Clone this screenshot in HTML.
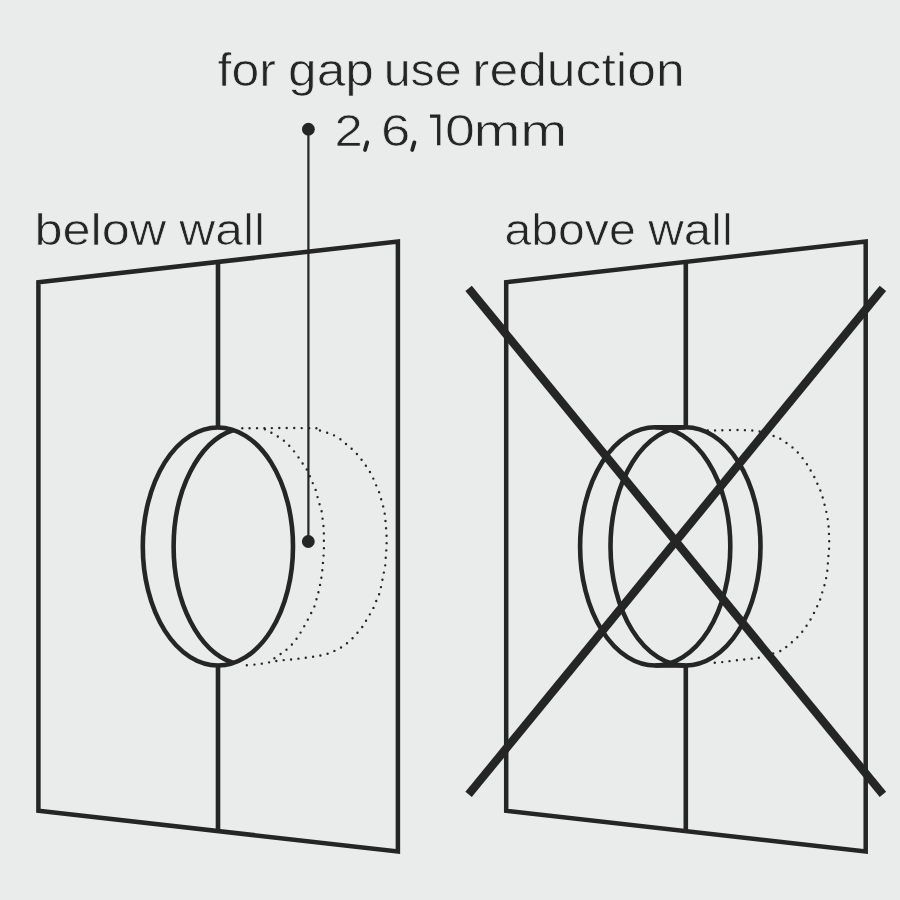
<!DOCTYPE html>
<html><head><meta charset="utf-8"><style>
html,body{margin:0;padding:0;background:#eaeceb;}
svg{display:block;will-change:transform;}
text{font-family:"Liberation Sans",sans-serif;font-size:45px;fill:#252525;stroke:#eaeceb;stroke-width:0.7px;}
</style></head><body>
<svg width="900" height="900" viewBox="0 0 900 900">
<rect width="900" height="900" fill="#eaeceb"/>
<text transform="translate(217.58,86.00) scale(1.1096,1.02)" >for</text>
<text transform="translate(288.08,86.00) scale(1.1431,1.02)" >gap</text>
<text transform="translate(383.63,86.00) scale(1.0754,1.02)" >use</text>
<text transform="translate(472.20,86.00) scale(1.1484,1.02)" >reduction</text>
<text transform="translate(334.55,145.70) scale(1.1317,1.0)" >2</text>
<text transform="translate(380.96,145.70) scale(1.1691,1.0)" >6</text>
<text transform="translate(445.00,145.70) scale(1.1953,1.0)" >0</text>
<text transform="translate(473.39,145.70) scale(1.2536,1.0)" >mm</text>
<line x1="367.2" y1="142.4" x2="365.0" y2="150.0" stroke="#252525" stroke-width="3.8" stroke-linecap="round"/>
<line x1="414.4" y1="142.4" x2="412.2" y2="150.0" stroke="#252525" stroke-width="3.8" stroke-linecap="round"/>
<text transform="translate(34.40,245.30) scale(1.1211,1.0)" >below</text>
<text transform="translate(179.36,245.30) scale(1.1046,1.0)" >wall</text>
<text transform="translate(504.41,245.30) scale(1.0716,1.0)" >above</text>
<text transform="translate(648.16,245.30) scale(1.0938,1.0)" >wall</text>
<path d="M430,116.2 L438.7,116.2 L438.7,145.3" fill="none" stroke="#252525" stroke-width="3.3" stroke-linejoin="miter"/>
<polygon points="38.40,282.20 397.90,241.60 397.90,851.40 38.40,810.80" fill="none" stroke="#252525" stroke-width="4.5" stroke-linejoin="miter"/>
<polygon points="506.20,282.20 865.70,241.60 865.70,851.40 506.20,810.80" fill="none" stroke="#252525" stroke-width="4.5" stroke-linejoin="miter"/>
<line x1="218.0" y1="261.91694019471487" x2="218.0" y2="428" stroke="#252525" stroke-width="4.6"/><line x1="218.0" y1="665" x2="218.0" y2="831.0830598052851" stroke="#252525" stroke-width="4.6"/>
<line x1="685.8" y1="261.91694019471487" x2="685.8" y2="428" stroke="#252525" stroke-width="4.6"/><line x1="685.8" y1="664" x2="685.8" y2="831.0830598052851" stroke="#252525" stroke-width="4.6"/>
<ellipse cx="217.9" cy="546.5" rx="75.1" ry="119" fill="none" stroke="#252525" stroke-width="4.6"/>
<path d="M233.3,430.03 A75.1,119 0 0 0 233.3,662.97" fill="none" stroke="#252525" stroke-width="4.6"/>
<ellipse cx="655.2" cy="546.4" rx="75.1" ry="119.1" fill="none" stroke="#252525" stroke-width="4.6"/>
<ellipse cx="685.5" cy="546.4" rx="75.0" ry="119.1" fill="none" stroke="#252525" stroke-width="4.6"/>
<line x1="655.2" y1="427.3" x2="685.5" y2="427.3" stroke="#252525" stroke-width="4.6"/>
<line x1="655.2" y1="665.5" x2="685.5" y2="665.5" stroke="#252525" stroke-width="4.6"/>
<path d="M242.30,428.20 C254.10,428.20 300.35,427.88 313.10,428.20 C325.85,428.52 316.60,429.40 318.80,430.10 C321.00,430.80 323.95,431.62 326.30,432.40 C328.65,433.18 330.68,433.77 332.90,434.80 C335.12,435.83 337.55,437.18 339.60,438.60 C341.65,440.02 343.32,441.72 345.20,443.30 C347.08,444.88 349.00,446.37 350.90,448.10 C352.80,449.83 354.87,451.82 356.60,453.70 C358.33,455.58 359.73,457.35 361.30,459.40 C362.87,461.45 364.58,463.95 366.00,466.00 C367.42,468.05 368.53,469.50 369.80,471.70 C371.07,473.90 372.50,476.85 373.60,479.20 C374.70,481.55 375.47,483.60 376.40,485.80 C377.33,488.00 378.42,490.18 379.20,492.40 C379.98,494.62 380.47,496.88 381.10,499.10 C381.73,501.32 382.43,503.50 383.00,505.70 C383.57,507.90 384.12,510.10 384.50,512.30 C384.88,514.50 385.08,516.70 385.30,518.90 C385.52,521.10 385.62,523.30 385.80,525.50 C385.98,527.70 386.27,529.73 386.40,532.10 C386.53,534.47 386.58,537.18 386.60,539.70 C386.62,542.22 386.62,544.68 386.50,547.20 C386.38,549.72 386.10,551.88 385.90,554.80 C385.70,557.72 385.63,561.78 385.30,564.70 C384.97,567.62 384.35,569.93 383.90,572.30 C383.45,574.67 383.07,576.55 382.60,578.90 C382.13,581.25 381.67,583.88 381.10,586.40 C380.53,588.92 379.98,591.63 379.20,594.00 C378.42,596.37 377.33,598.33 376.40,600.60 C375.47,602.87 374.70,605.30 373.60,607.60 C372.50,609.90 371.07,612.20 369.80,614.40 C368.53,616.60 367.27,618.68 366.00,620.80 C364.73,622.92 363.62,625.12 362.20,627.10 C360.78,629.08 359.07,630.88 357.50,632.70 C355.93,634.52 354.53,636.27 352.80,638.00 C351.07,639.73 349.00,641.55 347.10,643.10 C345.20,644.65 343.45,646.03 341.40,647.30 C339.35,648.57 337.00,649.67 334.80,650.70 C332.60,651.73 330.55,652.72 328.20,653.50 C325.85,654.28 323.22,654.87 320.70,655.40 C318.18,655.93 315.62,656.30 313.10,656.70 C310.58,657.10 307.95,657.48 305.60,657.80 C303.25,658.12 301.37,658.32 299.00,658.60 C296.63,658.88 293.93,659.25 291.40,659.50 C288.87,659.75 286.48,659.83 283.80,660.10 C281.12,660.37 277.97,660.68 275.30,661.10 C272.63,661.52 270.32,662.13 267.80,662.60 C265.28,663.07 262.72,663.53 260.20,663.90 C257.68,664.27 255.22,664.55 252.70,664.80 C250.18,665.05 246.37,665.30 245.10,665.40" fill="none" stroke="#252525" stroke-width="2.4" stroke-linecap="round" stroke-dasharray="0 7.4"/>
<path d="M264.90,429.20 C266.02,429.82 269.38,431.65 271.60,432.90 C273.82,434.15 276.00,435.28 278.20,436.70 C280.40,438.12 282.77,439.67 284.80,441.40 C286.83,443.13 288.67,445.20 290.40,447.10 C292.13,449.00 293.62,450.75 295.20,452.80 C296.78,454.85 298.48,457.35 299.90,459.40 C301.32,461.45 302.45,463.22 303.70,465.10 C304.95,466.98 306.30,468.67 307.40,470.70 C308.50,472.73 309.35,475.10 310.30,477.30 C311.25,479.50 312.17,481.68 313.10,483.90 C314.03,486.12 315.12,488.23 315.90,490.60 C316.68,492.97 317.17,495.75 317.80,498.10 C318.43,500.45 319.07,502.50 319.70,504.70 C320.33,506.90 321.12,508.93 321.60,511.30 C322.08,513.67 322.28,516.38 322.60,518.90 C322.92,521.42 323.28,523.88 323.50,526.40 C323.72,528.92 323.83,531.47 323.90,534.00 C323.97,536.53 323.90,539.08 323.90,541.60 C323.90,544.12 323.97,546.58 323.90,549.10 C323.83,551.62 323.67,554.32 323.50,556.70 C323.33,559.08 323.12,560.97 322.90,563.40 C322.68,565.83 322.48,568.72 322.20,571.30 C321.92,573.88 321.58,576.53 321.20,578.90 C320.82,581.27 320.40,583.13 319.90,585.50 C319.40,587.87 318.80,590.68 318.20,593.10 C317.60,595.52 316.98,597.65 316.30,600.00 C315.62,602.35 315.02,604.90 314.10,607.20 C313.18,609.50 311.92,611.60 310.80,613.80 C309.68,616.00 308.58,618.18 307.40,620.40 C306.22,622.62 304.95,624.88 303.70,627.10 C302.45,629.32 301.17,631.67 299.90,633.70 C298.63,635.73 297.52,637.42 296.10,639.30 C294.68,641.18 293.13,643.17 291.40,645.00 C289.67,646.83 287.58,648.73 285.70,650.30 C283.82,651.87 281.98,653.08 280.10,654.40 C278.22,655.72 275.35,657.57 274.40,658.20" fill="none" stroke="#252525" stroke-width="2.4" stroke-linecap="round" stroke-dasharray="0 7.4"/>
<path d="M707.80,430.50 C715.35,430.50 742.00,429.53 753.10,430.50 C764.20,431.47 769.80,434.88 774.40,436.30 C779.00,437.72 778.62,437.82 780.70,439.00 C782.78,440.18 784.83,441.92 786.90,443.40 C788.97,444.88 791.18,446.27 793.10,447.90 C795.02,449.53 796.77,451.42 798.40,453.20 C800.03,454.98 801.42,456.67 802.90,458.60 C804.38,460.53 805.97,462.73 807.30,464.80 C808.63,466.87 809.72,468.93 810.90,471.00 C812.08,473.07 813.28,474.98 814.40,477.20 C815.52,479.42 816.55,481.93 817.60,484.30 C818.65,486.67 819.80,489.02 820.70,491.40 C821.60,493.78 822.32,496.22 823.00,498.60 C823.68,500.98 824.22,503.33 824.80,505.70 C825.38,508.07 826.00,510.43 826.50,512.80 C827.00,515.17 827.43,517.38 827.80,519.90 C828.17,522.42 828.50,525.38 828.70,527.90 C828.90,530.42 828.92,532.63 829.00,535.00 C829.08,537.37 829.20,539.58 829.20,542.10 C829.20,544.62 829.15,547.58 829.00,550.10 C828.85,552.62 828.50,554.83 828.30,557.20 C828.10,559.57 827.98,561.90 827.80,564.30 C827.62,566.70 827.50,569.20 827.20,571.60 C826.90,574.00 826.50,576.25 826.00,578.70 C825.50,581.15 824.88,583.85 824.20,586.30 C823.52,588.75 822.63,591.03 821.90,593.40 C821.17,595.77 820.65,598.22 819.80,600.50 C818.95,602.78 817.83,604.90 816.80,607.10 C815.77,609.30 814.73,611.48 813.60,613.70 C812.47,615.92 811.28,618.23 810.00,620.40 C808.72,622.57 807.30,624.68 805.90,626.70 C804.50,628.72 803.13,630.63 801.60,632.50 C800.07,634.37 798.42,636.20 796.70,637.90 C794.98,639.60 793.17,641.08 791.30,642.70 C789.43,644.32 787.57,646.12 785.50,647.60 C783.43,649.08 783.42,649.90 778.90,651.60 C774.38,653.30 763.00,656.62 758.40,657.80 C753.80,658.98 753.82,658.40 751.30,658.70 C748.78,659.00 745.82,659.32 743.30,659.60 C740.78,659.88 738.72,660.12 736.20,660.40 C733.68,660.68 730.72,661.00 728.20,661.30 C725.68,661.60 723.62,661.95 721.10,662.20 C718.58,662.45 714.43,662.70 713.10,662.80" fill="none" stroke="#252525" stroke-width="2.4" stroke-linecap="round" stroke-dasharray="0 7.4"/>
<line x1="308.4" y1="129" x2="308.4" y2="541.3" stroke="#252525" stroke-width="2.2"/>
<circle cx="308.4" cy="129.2" r="6.4" fill="#252525"/>
<circle cx="308.3" cy="541.5" r="6.4" fill="#252525"/>
<line x1="468.6" y1="288.3" x2="882.9" y2="794.4" stroke="#252525" stroke-width="8.3"/>
<line x1="882.9" y1="288.3" x2="468.6" y2="794.4" stroke="#252525" stroke-width="8.3"/>
</svg>
</body></html>
